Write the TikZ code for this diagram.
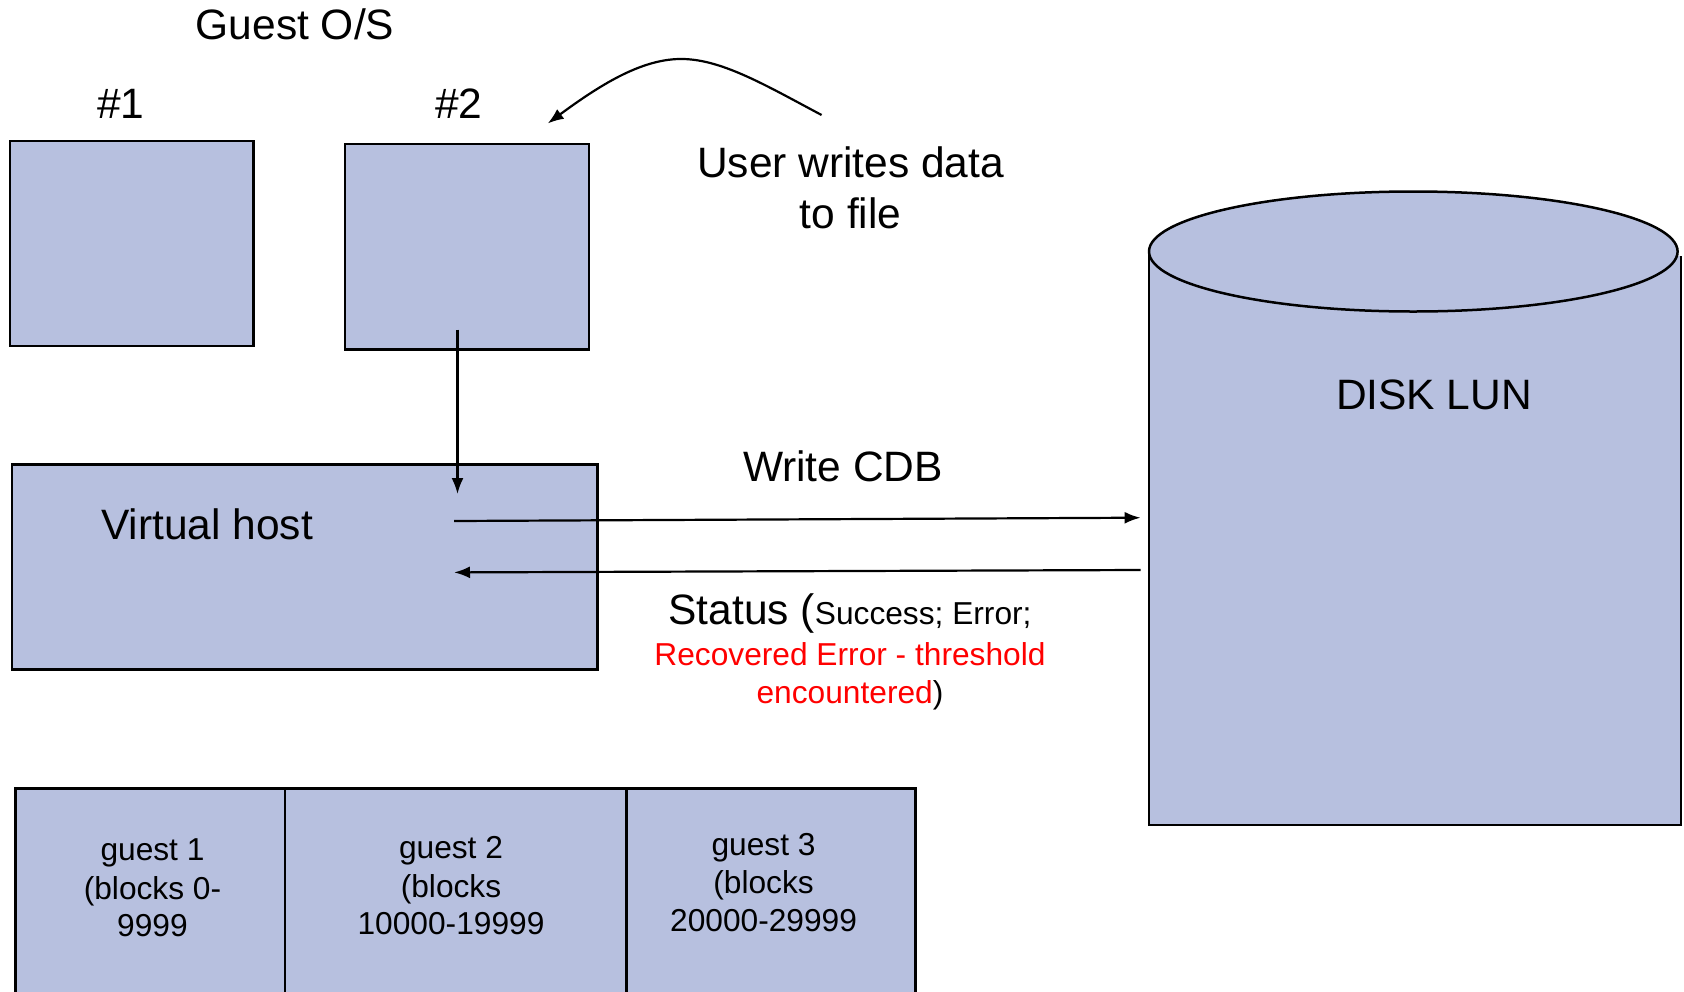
\documentclass[tikz,border=0pt]{standalone}
\usepackage{fontspec}
\setmainfont{Liberation Sans}
\usetikzlibrary{arrows.meta}
\definecolor{boxfill}{RGB}{183,192,223}
\begin{document}
\begin{tikzpicture}[x=1pt,y=-1pt,
  box/.style={draw=black, fill=boxfill, line width=2.5pt, inner sep=0pt, anchor=north west},
  big/.style={font=\fontsize{42.5}{50}\selectfont, inner sep=0pt, anchor=base},
  small/.style={font=\fontsize{31.7}{38}\selectfont, inner sep=0pt, anchor=base},
  arr/.style={line width=2.2pt, -{Latex[length=16pt,width=12pt]}}]
\useasboundingbox (0,0) rectangle (1684,991);
\begin{scope}
\clip (0,0) rectangle (1684,991);
% guest OS boxes
\node[box, minimum width=243.8pt, minimum height=205.2pt] (os1) at (8.6,139.6) {};
\node[box, minimum width=243.8pt, minimum height=205.2pt] (os2) at (343.7,142.8) {};
% virtual host
\node[box, minimum width=585.3pt, minimum height=205pt] (vh) at (10.7,463) {};
% bottom partitions
\node[box, minimum width=269.5pt, minimum height=260pt] (p1) at (14,787) {};
\node[box, minimum width=341.5pt, minimum height=260pt] (p2) at (283.5,787) {};
\node[box, minimum width=289pt, minimum height=260pt] (p3) at (625,787) {};
% cylinder
\fill[boxfill] (1149,252) -- (1149,825) -- (1681,825) -- (1681,256) -- cycle;
\draw[line width=2.5pt] (1149,252) -- (1149,825) -- (1681,825) -- (1681,256);
\draw[line width=2.5pt, fill=boxfill] (1413.3,251.5) ellipse [x radius=264.3pt, y radius=60pt];
\end{scope}
% texts
\node[big] (guestos) at (295,39.5) {Guest O/S};
\node[big] (n1) at (121,118) {\#1};
\node[big] (n2) at (459,118) {\#2};
\node[big] (user1) at (850.6,177) {User writes data};
\node[big] (user2) at (850.6,228) {to file};
\node[big] (disk) at (1434,409) {DISK LUN};
\node[big] (wcdb) at (843,481) {Write CDB};
\node[big] (vhl) at (207,539) {Virtual host};
\node[big] (st1) at (850,624) {Status (\fontsize{31.7}{38}\selectfont Success; Error;};
\node[small, text=red] (st2) at (850,665) {Recovered Error - threshold};
\node[small] (st3) at (850,703.5) {\textcolor{red}{encountered})};
\node[small] (g1a) at (152.5,860) {guest 1};
\node[small] (g1b) at (152.5,899) {(blocks 0-};
\node[small] (g1c) at (152.5,936.5) {9999};
\node[small] (g2a) at (451,858) {guest 2};
\node[small] (g2b) at (451,897) {(blocks};
\node[small] (g2c) at (451,934) {10000-19999};
\node[small] (g3a) at (763.6,855) {guest 3};
\node[small] (g3b) at (763.6,893.6) {(blocks};
\node[small] (g3c) at (763.6,931) {20000-29999};
% connector coordinates
\coordinate (c1s) at (821.6,115);
\coordinate (c1p) at (678.8,59);
\coordinate (c1e) at (547.7,123.5);
\coordinate (dns) at (457.5,329.7);
\coordinate (dne) at (457.5,494);
\coordinate (wrs) at (454,521);
\coordinate (wre) at (1140.6,517.7);
\coordinate (sts) at (1140.6,570);
\coordinate (ste) at (454,572.4);
% connectors
\draw[arr] (c1s) .. controls (765,85) and (720,58) .. (c1p) .. controls (640,60) and (600,85) .. (c1e);
\draw[arr] (dns) -- (dne);
\draw[arr] (wrs) -- (wre);
\draw[arr] (sts) -- (ste);
\end{tikzpicture}
\end{document}
